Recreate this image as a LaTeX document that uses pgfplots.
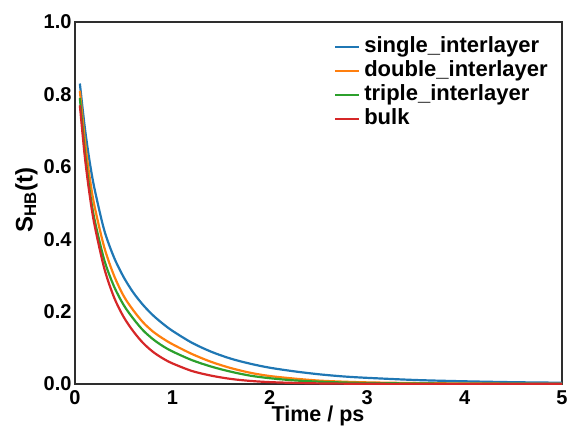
\documentclass[border=0pt]{standalone}
\usepackage{fontspec}
\setmainfont{Liberation Sans}
\usepackage{pgfplots}
\pgfplotsset{compat=1.18}
\definecolor{tblue}{HTML}{1F77B4}
\definecolor{torange}{HTML}{FF7F0E}
\definecolor{tgreen}{HTML}{2CA02C}
\definecolor{tred}{HTML}{D62728}
\begin{document}
\begin{tikzpicture}
\useasboundingbox (-75pt,-50pt) rectangle (494pt,384pt);
\begin{axis}[
  at={(0pt,0pt)}, anchor=south west,
  scale only axis, width=487pt, height=362pt,
  xmin=0, xmax=5, ymin=0, ymax=1.0,
  xtick={0,1,2,3,4,5}, ytick={0,0.2,0.4,0.6,0.8,1.0},
  major tick length=0pt,
  /pgf/number format/assume math mode=true,
  /pgf/number format/fixed, /pgf/number format/fixed zerofill,
  yticklabel style={/pgf/number format/precision=1, font=\bfseries\fontsize{20}{24}\selectfont, xshift=0pt},
  xticklabel style={/pgf/number format/precision=0, font=\bfseries\fontsize{20}{24}\selectfont, yshift=-3pt},
  axis line style={line width=1.8pt, black!82},
  xlabel={Time / ps},
  ylabel={S\textsubscript{HB}(t)},
  xlabel style={font=\bfseries\fontsize{21.5}{25}\selectfont, at={(axis description cs:0.499,-0.087)}, anchor=center},
  ylabel style={font=\bfseries\fontsize{24}{28}\selectfont, at={(axis description cs:-0.1,0.508)}, anchor=center, rotate=0},
  legend style={at={(axis description cs:0.532,0.964)}, anchor=north west, draw=none, fill=none,
    font=\bfseries\fontsize{22}{24}\selectfont, row sep=0pt, inner sep=0pt,
    nodes={inner xsep=4pt, inner ysep=0pt, text height=17pt, text depth=7pt}},
  legend cell align=left,
  legend image code/.code={\draw[#1, line width=2pt] (0pt,0pt) -- (24pt,0pt);},
  every axis plot/.append style={line width=2.2pt, smooth, no marks},
]
\addplot[tblue, line width=2.2pt] coordinates {
(0.05,0.830)(0.1,0.710)(0.15,0.615)(0.2,0.540)(0.3,0.425)(0.4,0.350)(0.5,0.295)(0.6,0.252)(0.7,0.218)(0.8,0.190)(0.9,0.167)(1.0,0.147)(1.2,0.114)(1.4,0.089)(1.6,0.070)(1.8,0.056)(2.0,0.045)(2.25,0.035)(2.5,0.027)(2.75,0.021)(3.0,0.017)(3.5,0.011)(4.0,0.0075)(4.5,0.0050)(5.0,0.0035)};
\addlegendentry{single\_interlayer}
\addplot[torange, line width=2.2pt] coordinates {
(0.05,0.810)(0.1,0.676)(0.15,0.572)(0.2,0.492)(0.3,0.378)(0.4,0.300)(0.5,0.243)(0.6,0.203)(0.7,0.170)(0.8,0.145)(0.9,0.126)(1.0,0.110)(1.2,0.083)(1.4,0.061)(1.6,0.044)(1.8,0.031)(2.0,0.022)(2.25,0.015)(2.5,0.0095)(2.75,0.0065)(3.0,0.0045)(3.5,0.0025)(4.0,0.0015)(4.5,0.0010)(5.0,0.0007)};
\addlegendentry{double\_interlayer}
\addplot[tgreen, line width=2.2pt] coordinates {
(0.05,0.790)(0.1,0.645)(0.15,0.536)(0.2,0.455)(0.3,0.343)(0.4,0.270)(0.5,0.218)(0.6,0.180)(0.7,0.148)(0.8,0.124)(0.9,0.105)(1.0,0.090)(1.2,0.066)(1.4,0.048)(1.6,0.034)(1.8,0.023)(2.0,0.016)(2.25,0.010)(2.5,0.0065)(2.75,0.0042)(3.0,0.0028)(3.5,0.0014)(4.0,0.0008)(4.5,0.0005)(5.0,0.0003)};
\addlegendentry{triple\_interlayer}
\addplot[tred, line width=2.2pt] coordinates {
(0.05,0.770)(0.1,0.630)(0.15,0.523)(0.2,0.440)(0.3,0.320)(0.4,0.240)(0.5,0.185)(0.6,0.145)(0.7,0.113)(0.8,0.089)(0.9,0.071)(1.0,0.057)(1.2,0.036)(1.4,0.023)(1.6,0.014)(1.8,0.0085)(2.0,0.0052)(2.25,0.0030)(2.5,0.0017)(2.75,0.0010)(3.0,0.0006)(3.5,0.0002)(4.0,0.0001)(4.5,0.0)(5.0,0.0)};
\addlegendentry{bulk}
\end{axis}
\end{tikzpicture}
\end{document}
